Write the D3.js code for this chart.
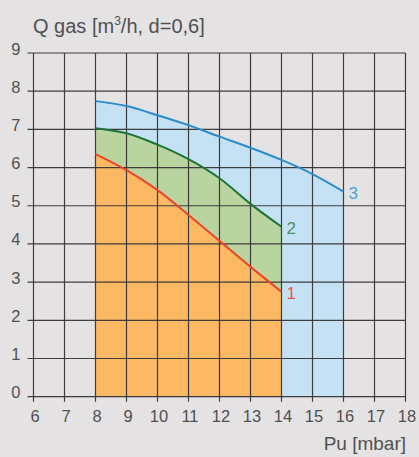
<!DOCTYPE html>
<html><head><meta charset="utf-8">
<script src="https://cdn.jsdelivr.net/npm/d3@7"></script>
<style>
html,body{margin:0;padding:0;background:#e5e2e4;}
svg{display:block;}
text{font-family:"Liberation Sans",Arial,sans-serif;fill:#505050;}
</style></head>
<body>
<svg id="c" width="419" height="457"></svg>
<script>
const xTicks = [6,7,8,9,10,11,12,13,14,15,16,17,18];
const yTicks = [0,1,2,3,4,5,6,7,8,9];
const pu1 = [8,9,10,11,12,13,14];
const q1  = [6.35,5.93,5.41,4.76,4.08,3.40,2.75];
const pu2 = [8,9,10,11,12,13,14];
const q2  = [7.03,6.90,6.60,6.22,5.72,5.05,4.45];
const pu3 = [8,9,10,11,12,13,14,15,16];
const q3  = [7.74,7.61,7.37,7.11,6.81,6.52,6.20,5.83,5.37];
const curveLabels = ["1","2","3"];

const svg = d3.select("#c");
const x = d3.scaleLinear().domain([6,18]).range([33.5,405.5]);
const y = d3.scaleLinear().domain([0,9]).range([396.7,53]);

const mk = (xs,ys)=>xs.map((v,i)=>({x:v,y:ys[i]}));
const s1 = mk(pu1,q1), s2 = mk(pu2,q2), s3 = mk(pu3,q3);

const area = d3.area().x(d=>x(d.x)).y0(y(0)).y1(d=>y(d.y)).curve(d3.curveCatmullRom);
const line = d3.line().x(d=>x(d.x)).y(d=>y(d.y)).curve(d3.curveCatmullRom);

svg.append("path").attr("d",area(s3)).attr("fill","#c5e2f4");
svg.append("path").attr("d",area(s2)).attr("fill","#b9d49e");
svg.append("path").attr("d",area(s1)).attr("fill","#fcb862");

// grid
const g = svg.append("g").attr("stroke","#3d3b3c").attr("stroke-width",1.2);
yTicks.forEach(t=>{
  g.append("line").attr("x1",x(6)-6).attr("x2",x(18)).attr("y1",y(t)).attr("y2",y(t));
});
xTicks.forEach(t=>{
  g.append("line").attr("x1",x(t)).attr("x2",x(t)).attr("y1",y(9)).attr("y2",y(0)+5);
});

svg.append("path").attr("d",line(s3)).attr("fill","none").attr("stroke","#2b8ccb").attr("stroke-width",2);
svg.append("path").attr("d",line(s2)).attr("fill","none").attr("stroke","#1d7436").attr("stroke-width",2);
svg.append("path").attr("d",line(s1)).attr("fill","none").attr("stroke","#e8452c").attr("stroke-width",2);

// tick labels
svg.append("g").selectAll("text").data(yTicks).join("text")
  .attr("x",20.5).attr("y",d=>y(d)+1.5).attr("text-anchor","end")
  .attr("font-size","16.5px").text(d=>d);
svg.append("g").selectAll("text").data(xTicks).join("text")
  .attr("x",d=>x(d)+1.5).attr("y",421.5).attr("text-anchor","middle")
  .attr("font-size","16.5px").text(d=>d);

// curve labels
const lastPts = [s1[s1.length-1], s2[s2.length-1], s3[s3.length-1]];
const lblCol = ["#e8584a","#4f8f62","#4aa4da"];
svg.append("g").selectAll("text").data(curveLabels).join("text")
  .attr("x",(d,i)=>x(lastPts[i].x)+5).attr("y",(d,i)=>y(lastPts[i].y)+7)
  .attr("font-size","17px").style("fill",(d,i)=>lblCol[i]).text(d=>d);

// titles
const t = svg.append("text").attr("x",33).attr("y",33).attr("font-size","20px");
t.append("tspan").text("Q gas [m");
t.append("tspan").attr("font-size","12px").attr("dy",-8).text("3");
t.append("tspan").attr("dy",8).text("/h, d=0,6]");

svg.append("text").attr("x",406).attr("y",450).attr("text-anchor","end")
  .attr("font-size","19px").text("Pu [mbar]");
</script>
</body></html>
